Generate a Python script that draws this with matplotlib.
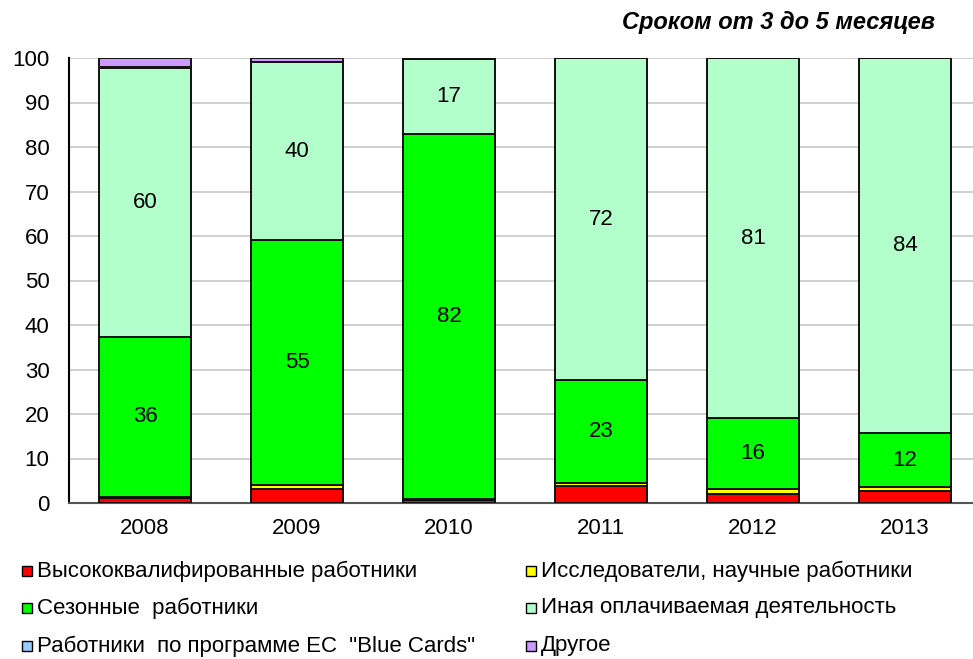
import matplotlib
matplotlib.use("Agg")
import matplotlib.pyplot as plt
from matplotlib.patches import Rectangle
import numpy as np

plt.rcParams['font.family'] = ['Liberation Sans', 'DejaVu Sans']

years = ["2008", "2009", "2010", "2011", "2012", "2013"]
series_names = [
    "Высококвалифированные работники",
    "Исследователи, научные работники",
    "Сезонные  работники",
    "Иная оплачиваемая деятельность",
    "Работники  по программе ЕС  \"Blue Cards\"",
    "Другое",
]
high_skilled = [1.2, 3.2, 0.6, 3.8, 2.0, 2.6]
researchers = [0.2, 0.8, 0.2, 0.8, 1.2, 0.9]
seasonal = [36.0, 55.0, 82.2, 23.0, 15.8, 12.3]
other_paid = [60.4, 40.0, 16.7, 72.4, 81.0, 84.2]
blue_cards = [0.2, 0.0, 0.3, 0.0, 0.0, 0.0]
other = [2.0, 1.0, 0.0, 0.0, 0.0, 0.0]
colors = ["#FF0000", "#FFFF00", "#00FF00", "#B3FFCC", "#99CCFF", "#CC99FF"]
title = "Сроком от 3 до 5 месяцев"
yticks = [0, 10, 20, 30, 40, 50, 60, 70, 80, 90, 100]

series = [high_skilled, researchers, seasonal, other_paid, blue_cards, other]

W, H = 973, 659
fig = plt.figure(figsize=(W / 100, H / 100), dpi=100)
ax = fig.add_axes([69 / W, (H - 503) / H, (W - 69) / W, (503 - 58) / H])

x = np.arange(len(years))
bottom = np.zeros(len(years))
for vals, col in zip(series, colors):
    vals = np.array(vals)
    ax.bar(x, vals, bottom=bottom, width=0.6, color=col, edgecolor="#111111",
           linewidth=1.4, zorder=3)
    bottom += vals

# data labels for seasonal and other paid
for idx in (2, 3):
    base = np.zeros(len(years))
    for j in range(idx):
        base += np.array(series[j])
    for xi, v, b in zip(x, series[idx], base):
        if v >= 10:
            ax.text(xi, b + v / 2, f"{round(v):d}", ha="center", va="center",
                    fontsize=16, zorder=5)

ax.set_xlim(-0.5, (W - 69) / 152 - 0.5)
ax.set_ylim(0, 100)
ax.set_yticks(yticks)
ax.set_xticks(x)
ax.set_xticklabels(years)
ax.tick_params(axis="both", length=0, labelsize=16)
ax.tick_params(axis="y", pad=14)
ax.tick_params(axis="x", pad=11)
ax.grid(axis="y", color="#C8C8C8", linewidth=1.2, zorder=0)
for s in ("top", "right"):
    ax.spines[s].set_visible(False)
ax.spines["left"].set_color("black")
ax.spines["left"].set_linewidth(1.5)
ax.spines["bottom"].set_color("#555555")
ax.spines["bottom"].set_linewidth(1.5)

fig.text(935 / W, 1 - 22 / H, title, ha="right", va="center", fontsize=17,
         fontweight="bold", fontstyle="italic")

# legend: 3 rows x 2 columns, row-wise order
col_x = [22, 526]
row_y = [571, 608, 646]
sq = 10
for i, (name, col) in enumerate(zip(series_names, colors)):
    r, c = divmod(i, 2)
    px, py = col_x[c], row_y[r]
    fig.patches.append(Rectangle((px / W, 1 - (py + sq / 2) / H), sq / W, sq / H,
                                 transform=fig.transFigure, facecolor=col,
                                 edgecolor="black", linewidth=1.0))
    fig.text((px + sq + 5) / W, 1 - py / H, name, ha="left", va="center",
             fontsize=16)

fig.savefig("out.png", dpi=100)
